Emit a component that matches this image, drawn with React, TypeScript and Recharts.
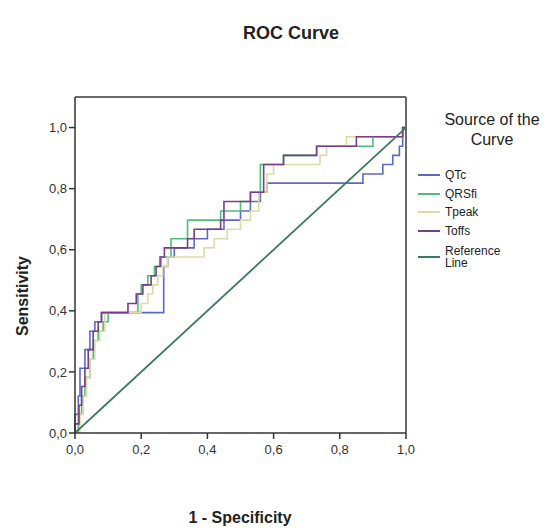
import React from "react";
import { LineChart, Line, XAxis, YAxis, ReferenceLine } from "recharts";

const FONT = "'Liberation Sans', Arial, sans-serif";

const axisTicks = [0, 0.2, 0.4, 0.6, 0.8, 1];
const yTop = 1.1;

const seriesNames = ["QTc", "QRSfi", "Tpeak", "Toffs", "Reference Line"];
const seriesColors = ["#5a6cc2", "#4cbf78", "#dcdba8", "#7a3c8a", "#3b7a5e"];

// [1 - specificity, sensitivity] corner points
const qtc: [number, number][] = [
  [0, 0], [0, 0.061], [0.01, 0.061], [0.01, 0.121], [0.015, 0.121], [0.015, 0.212],
  [0.03, 0.212], [0.03, 0.273], [0.045, 0.273], [0.045, 0.333], [0.06, 0.333],
  [0.06, 0.364], [0.08, 0.364], [0.08, 0.394], [0.268, 0.394], [0.268, 0.545],
  [0.28, 0.545], [0.28, 0.576], [0.3, 0.576], [0.3, 0.606], [0.36, 0.606],
  [0.36, 0.636], [0.4, 0.636], [0.4, 0.667], [0.45, 0.667], [0.45, 0.697],
  [0.5, 0.697], [0.5, 0.727], [0.53, 0.727], [0.53, 0.758], [0.56, 0.758],
  [0.56, 0.788], [0.58, 0.788], [0.58, 0.818], [0.87, 0.818], [0.87, 0.848],
  [0.93, 0.848], [0.93, 0.879], [0.96, 0.879], [0.96, 0.909], [0.98, 0.909],
  [0.98, 0.939], [0.99, 0.939], [0.99, 1], [1, 1],
];

const qrsfi: [number, number][] = [
  [0, 0], [0.01, 0], [0.01, 0.061], [0.02, 0.061], [0.02, 0.121], [0.03, 0.121],
  [0.03, 0.182], [0.045, 0.182], [0.045, 0.242], [0.055, 0.242], [0.055, 0.303],
  [0.07, 0.303], [0.07, 0.333], [0.085, 0.333], [0.085, 0.364], [0.1, 0.364],
  [0.1, 0.394], [0.19, 0.394], [0.19, 0.455], [0.2, 0.455], [0.2, 0.485],
  [0.22, 0.485], [0.22, 0.515], [0.24, 0.515], [0.24, 0.545], [0.26, 0.545],
  [0.26, 0.576], [0.29, 0.576], [0.29, 0.636], [0.34, 0.636], [0.34, 0.697],
  [0.44, 0.697], [0.44, 0.727], [0.5, 0.727], [0.5, 0.758], [0.53, 0.758],
  [0.53, 0.788], [0.56, 0.788], [0.56, 0.879], [0.63, 0.879], [0.63, 0.909],
  [0.73, 0.909], [0.73, 0.939], [0.9, 0.939], [0.9, 0.97], [0.99, 0.97],
  [0.99, 1], [1, 1],
];

const tpeak: [number, number][] = [
  [0, 0], [0.015, 0], [0.015, 0.061], [0.025, 0.061], [0.025, 0.121], [0.035, 0.121],
  [0.035, 0.182], [0.045, 0.182], [0.045, 0.242], [0.06, 0.242], [0.06, 0.303],
  [0.075, 0.303], [0.075, 0.333], [0.09, 0.333], [0.09, 0.394], [0.2, 0.394],
  [0.2, 0.424], [0.22, 0.424], [0.22, 0.455], [0.235, 0.455], [0.235, 0.485],
  [0.25, 0.485], [0.25, 0.515], [0.265, 0.515], [0.265, 0.545], [0.28, 0.545],
  [0.28, 0.576], [0.39, 0.576], [0.39, 0.606], [0.42, 0.606], [0.42, 0.636],
  [0.46, 0.636], [0.46, 0.667], [0.5, 0.667], [0.5, 0.697], [0.53, 0.697],
  [0.53, 0.727], [0.555, 0.727], [0.555, 0.788], [0.58, 0.788], [0.58, 0.848],
  [0.6, 0.848], [0.6, 0.879], [0.74, 0.879], [0.74, 0.909], [0.76, 0.909],
  [0.76, 0.939], [0.82, 0.939], [0.82, 0.97], [0.99, 0.97], [0.99, 1], [1, 1],
];

const toffs: [number, number][] = [
  [0, 0], [0, 0.03], [0.012, 0.03], [0.012, 0.091], [0.02, 0.091], [0.02, 0.152],
  [0.03, 0.152], [0.03, 0.212], [0.04, 0.212], [0.04, 0.273], [0.055, 0.273],
  [0.055, 0.333], [0.07, 0.333], [0.07, 0.364], [0.08, 0.364], [0.08, 0.394],
  [0.16, 0.394], [0.16, 0.424], [0.185, 0.424], [0.185, 0.455], [0.205, 0.455],
  [0.205, 0.485], [0.23, 0.485], [0.23, 0.515], [0.245, 0.515], [0.245, 0.545],
  [0.257, 0.545], [0.257, 0.576], [0.27, 0.576], [0.27, 0.606], [0.34, 0.606],
  [0.34, 0.636], [0.36, 0.636], [0.36, 0.667], [0.44, 0.667], [0.44, 0.697],
  [0.45, 0.697], [0.45, 0.758], [0.53, 0.758], [0.53, 0.788], [0.57, 0.788],
  [0.57, 0.879], [0.63, 0.879], [0.63, 0.909], [0.73, 0.909], [0.73, 0.939],
  [0.85, 0.939], [0.85, 0.97], [0.99, 0.97], [0.99, 1], [1, 1],
];

const referenceLine: [number, number][] = [[0, 0], [1, 1]];

const seriesPoints = [qtc, qrsfi, tpeak, toffs, referenceLine];

const toRows = (pts: [number, number][]) => pts.map(([fpr, tpr]) => ({ fpr, tpr }));

const fmt = (v: number) => v.toFixed(1).replace(".", ",");

// legend drawn beside the chart, in series order
function SourceLegend() {
  return (
    <div style={{ position: "absolute", left: 412, top: 110, width: 144, fontFamily: FONT, color: "#222" }}>
      <div style={{ textAlign: "center", fontSize: 16, lineHeight: "20px", marginLeft: 16, marginBottom: 16 }}>
        Source of the
        <br />
        Curve
      </div>
      {seriesNames.map((name, i) => (
        <div
          key={name}
          style={{
            display: "flex",
            alignItems: "center",
            marginLeft: 6,
            height: name.includes(" ") ? 26 : 18.5,
            marginTop: name.includes(" ") ? 4 : 0,
            fontSize: 12,
          }}
        >
          <div style={{ width: 22, height: 2, background: seriesColors[i], marginRight: 5 }} />
          <div style={{ width: 58, lineHeight: "12px" }}>{name}</div>
        </div>
      ))}
    </div>
  );
}

export default function App() {
  return (
    <div style={{ position: "absolute", left: 0, top: 0, width: 556, height: 530, background: "#fff" }}>
      <div
        style={{
          position: "absolute",
          left: 0,
          width: 556,
          top: 23,
          textAlign: "center",
          paddingLeft: 26,
          boxSizing: "border-box",
          fontFamily: FONT,
          fontWeight: "bold",
          fontSize: 18,
          color: "#222",
        }}
      >
        ROC Curve
      </div>
      <LineChart width={556} height={530} margin={{ top: 97, right: 150, bottom: 67, left: 30 }}>
        <XAxis
          dataKey="fpr"
          type="number"
          domain={[0, 1]}
          ticks={axisTicks}
          tickFormatter={fmt}
          stroke="#333"
          strokeWidth={1.5}
          tickSize={6}
          tickMargin={6}
          height={30}
          tick={{ fill: "#333", fontSize: 13, fontFamily: FONT }}
          label={{
            content: () => (
              <text x={240} y={517} textAnchor="middle" dominantBaseline="central"
                fontFamily={FONT} fontWeight="bold" fontSize={16} fill="#222">
                1 - Specificity
              </text>
            ),
          }}
        />
        <YAxis
          type="number"
          domain={[0, yTop]}
          ticks={axisTicks}
          tickFormatter={fmt}
          allowDataOverflow
          stroke="#333"
          strokeWidth={1.5}
          tickSize={6}
          width={45}
          tick={{ fill: "#333", fontSize: 13, fontFamily: FONT }}
          label={{
            content: () => (
              <text x={22} y={296} transform="rotate(-90 22 296)" textAnchor="middle"
                dominantBaseline="central" fontFamily={FONT} fontWeight="bold" fontSize={16} fill="#222">
                Sensitivity
              </text>
            ),
          }}
        />
        <ReferenceLine y={yTop} stroke="#6a6a6a" strokeWidth={2} />
        <ReferenceLine x={1} stroke="#6a6a6a" strokeWidth={2} />
        {seriesPoints.map((pts, i) => (
          <Line
            key={seriesNames[i]}
            data={toRows(pts)}
            dataKey="tpr"
            name={seriesNames[i]}
            type="linear"
            stroke={seriesColors[i]}
            strokeWidth={i === 4 ? 1.8 : 1.6}
            dot={false}
            activeDot={false}
            isAnimationActive={false}
          />
        ))}
      </LineChart>
      <SourceLegend />
    </div>
  );
}
